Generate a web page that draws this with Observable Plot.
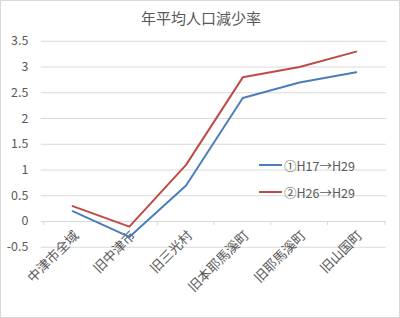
<!DOCTYPE html>
<html><head><meta charset="utf-8">
<script src="https://cdn.jsdelivr.net/npm/d3@7"></script>
<script src="https://cdn.jsdelivr.net/npm/@observablehq/plot@0.6"></script>
<style>
html,body{margin:0;padding:0;background:#fff;}
#wrap{position:relative;width:400px;height:318px;box-sizing:border-box;border:1px solid #d9d9d9;overflow:hidden;font-family:"Noto Sans CJK JP","Noto Sans",sans-serif;}
#wrap svg{position:absolute;left:-1px;top:-1px;}
#title{position:absolute;left:0;width:400px;top:6px;text-align:center;font-size:15px;color:#595959;}
.leg{position:absolute;font-size:12.5px;color:#595959;display:flex;align-items:center;white-space:nowrap;}
.leg span.sw{display:inline-block;width:23px;height:2px;margin-right:2px;}
</style></head>
<body><div id="wrap"><div id="title"></div></div>
<script>
const title = "年平均人口減少率";
const categories = ["中津市全域","旧中津市","旧三光村","旧本耶馬溪町","旧耶馬溪町","旧山国町"];
const series1 = [0.2,-0.3,0.7,2.4,2.7,2.9];
const series2 = [0.3,-0.1,1.1,2.8,3.0,3.3];
const seriesNames = ["①H17→H29","②H26→H29"];
const colors = ["#4A7EBB","#BE4B48"];
const yTicks = [-0.5,0,0.5,1,1.5,2,2.5,3,3.5];

const data = [];
[series1, series2].forEach((s, k) => s.forEach((v, i) => data.push({cat: categories[i], value: v, series: seriesNames[k]})));

const W = 400, H = 318, mL = 41, mR = 12, mT = 41, mB = 70;
const bw = (W - mL - mR) / categories.length;
const font = "Noto Sans CJK JP";

const chart = Plot.plot({
  width: W, height: H,
  marginTop: mT, marginBottom: mB, marginLeft: mL, marginRight: mR,
  style: {fontFamily: font, background: "transparent", overflow: "visible"},
  x: {type: "band", domain: categories, padding: 0, axis: null},
  y: {domain: [-0.5, 3.5], axis: null},
  color: {domain: seriesNames, range: colors},
  marks: [
    Plot.ruleY(yTicks, {stroke: "#d9d9d9", strokeWidth: 1}),
    Plot.ruleX(categories, {x: d => d, y1: 0, y2: -0.08, dx: -bw / 2, stroke: "#d9d9d9"}),
    Plot.ruleX([categories[categories.length - 1]], {x: d => d, y1: 0, y2: -0.08, dx: bw / 2, stroke: "#d9d9d9"}),
    Plot.text(yTicks, {y: d => d, text: d => String(d), frameAnchor: "left", dx: -13, textAnchor: "end", fontSize: 12.5, fill: "#595959"}),
    Plot.text(categories, {x: d => d, y: () => 0, text: d => d, rotate: -45, textAnchor: "end", dx: 4, dy: 12, fontSize: 13.3, fill: "#595959"}),
    Plot.line(data, {x: "cat", y: "value", stroke: "series", z: "series", strokeWidth: 2})
  ]
});
const wrap = document.getElementById("wrap");
wrap.appendChild(chart);
document.getElementById("title").textContent = title;

const legTops = [164, 191];
seriesNames.forEach((n, k) => {
  const d = document.createElement("div");
  d.className = "leg";
  d.style.left = "258px";
  d.style.top = (legTops[k] - 9) + "px";
  d.style.height = "18px";
  const sw = document.createElement("span");
  sw.className = "sw";
  sw.style.background = colors[k];
  d.appendChild(sw);
  d.appendChild(document.createTextNode(n));
  wrap.appendChild(d);
});
</script>
</body></html>
